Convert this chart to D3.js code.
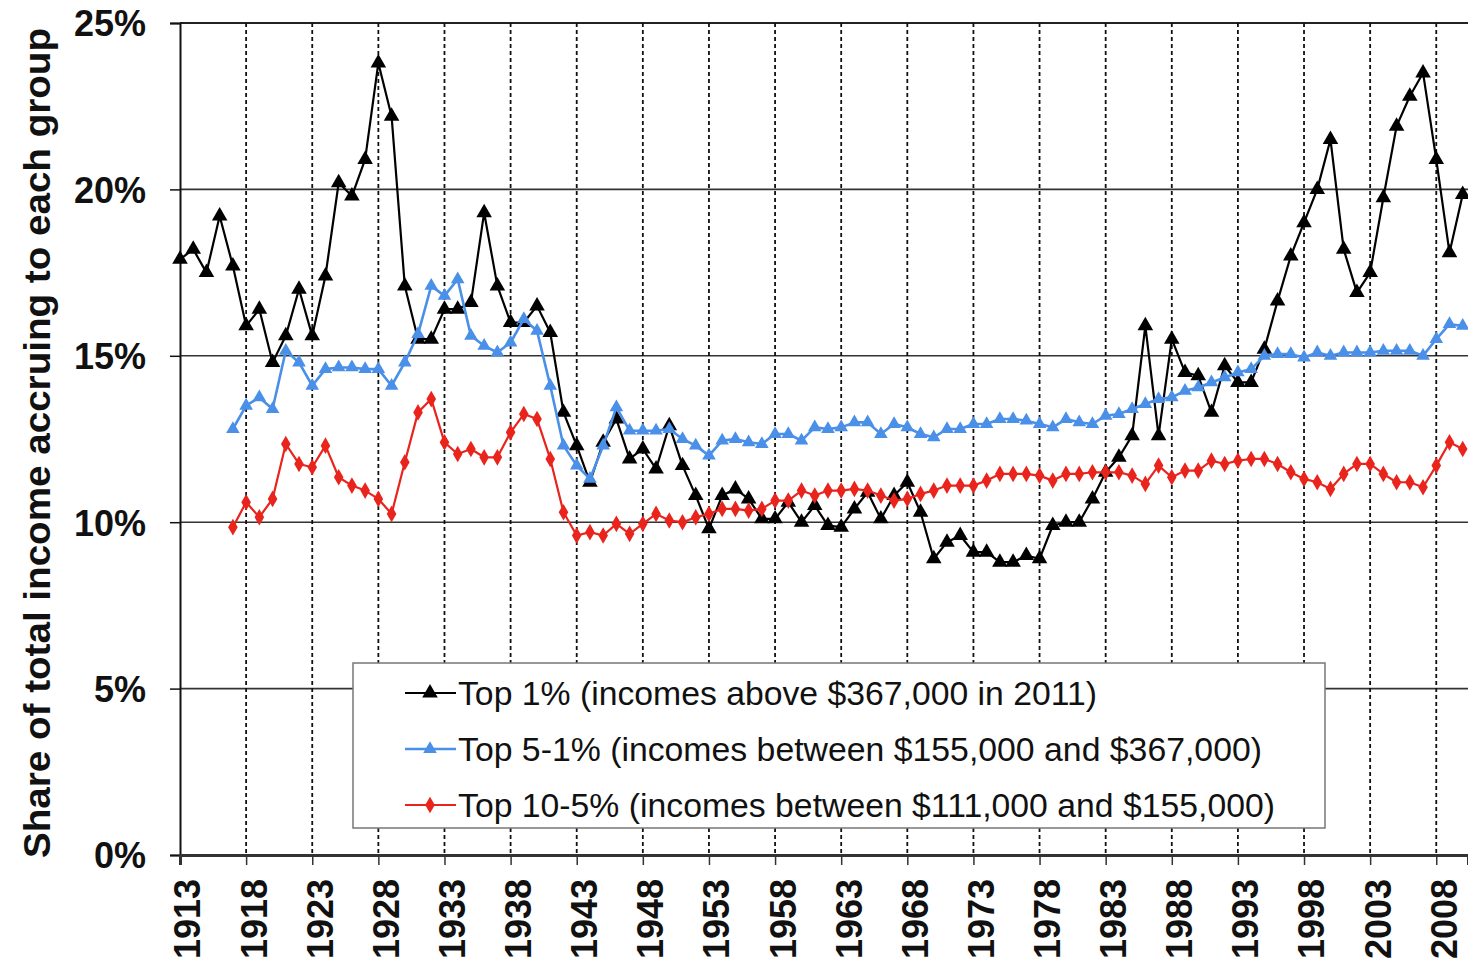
<!DOCTYPE html>
<html>
<head>
<meta charset="utf-8">
<script src="https://cdn.jsdelivr.net/npm/d3@7"></script>
<style>
  html, body { margin: 0; padding: 0; background: #fff; }
  svg { display: block; }
</style>
</head>
<body>
<svg id="chart" width="1468" height="974"></svg>
<script>
// ---------------- DATA ----------------
const years = [1913,1914,1915,1916,1917,1918,1919,1920,1921,1922,1923,1924,1925,1926,1927,1928,1929,1930,
  1931,1932,1933,1934,1935,1936,1937,1938,1939,1940,1941,1942,1943,1944,1945,1946,1947,1948,1949,1950,
  1951,1952,1953,1954,1955,1956,1957,1958,1959,1960,1961,1962,1963,1964,1965,1966,1967,1968,1969,1970,
  1971,1972,1973,1974,1975,1976,1977,1978,1979,1980,1981,1982,1983,1984,1985,1986,1987,1988,1989,1990,
  1991,1992,1993,1994,1995,1996,1997,1998,1999,2000,2001,2002,2003,2004,2005,2006,2007,2008,2009,2010];

// Top 1% (1913-2010)
const top1 = [17.9,18.2,17.5,19.2,17.7,15.9,16.4,14.8,15.6,17.0,15.6,17.4,20.2,19.8,20.9,23.8,22.2,17.1,
  15.5,15.5,16.4,16.4,16.6,19.3,17.1,16.0,16.0,16.5,15.7,13.3,12.3,11.2,12.4,13.1,11.9,12.2,11.6,12.9,
  11.7,10.8,9.8,10.8,11.0,10.7,10.1,10.1,10.6,10.0,10.5,9.9,9.85,10.4,10.9,10.1,10.8,11.2,10.3,8.9,
  9.4,9.6,9.1,9.1,8.8,8.8,9.0,8.9,9.9,10.0,10.0,10.7,11.5,11.95,12.6,15.9,12.6,15.5,14.5,14.4,
  13.3,14.7,14.2,14.2,15.2,16.65,18.0,19.0,20.0,21.5,18.2,16.9,17.5,19.75,21.9,22.8,23.5,20.9,18.1,19.85];

// Top 5-1% (1917-2010)
const top5to1 = [12.8,13.5,13.75,13.4,15.15,14.8,14.1,14.6,14.65,14.65,14.6,14.6,14.1,14.8,
  15.65,17.1,16.8,17.3,15.6,15.3,15.1,15.4,16.1,15.75,14.1,12.3,11.7,11.3,12.3,13.45,12.75,12.75,12.75,12.8,
  12.5,12.3,12.0,12.45,12.5,12.4,12.35,12.65,12.65,12.45,12.85,12.8,12.85,13.0,13.0,12.65,12.95,12.85,12.65,12.55,
  12.8,12.8,12.95,12.95,13.1,13.1,13.05,12.95,12.85,13.1,13.0,12.95,13.2,13.25,13.4,13.55,13.7,13.75,13.95,14.05,
  14.2,14.35,14.5,14.6,15.0,15.05,15.05,14.95,15.1,15.0,15.1,15.1,15.1,15.15,15.15,15.15,15.0,15.5,15.95,15.9];

// Top 10-5% (1917-2010)
const top10to5 = [9.85,10.6,10.15,10.7,12.35,11.75,11.65,12.3,11.35,11.1,10.95,10.7,10.25,11.8,
  13.3,13.7,12.4,12.05,12.2,11.95,11.95,12.7,13.25,13.1,11.9,10.3,9.6,9.7,9.6,9.95,9.65,9.95,10.25,10.05,
  10.0,10.15,10.25,10.4,10.4,10.35,10.4,10.65,10.65,10.95,10.8,10.95,10.95,11.0,10.95,10.8,10.65,10.7,10.85,10.95,
  11.1,11.1,11.1,11.25,11.45,11.45,11.45,11.4,11.25,11.45,11.45,11.5,11.5,11.5,11.4,11.15,11.7,11.35,11.55,11.55,
  11.85,11.75,11.85,11.9,11.9,11.75,11.5,11.3,11.2,11.0,11.45,11.75,11.75,11.45,11.2,11.2,11.05,11.7,12.4,12.2];

const yTickValues = [0, 5, 10, 15, 20, 25];
const yTickLabels = ["0%", "5%", "10%", "15%", "20%", "25%"];
const xTickYears = [1913,1918,1923,1928,1933,1938,1943,1948,1953,1958,1963,1968,1973,1978,1983,1988,1993,1998,2003,2008];

const seriesNames = [
  "Top 1% (incomes above $367,000 in 2011)",
  "Top 5-1% (incomes between $155,000 and $367,000)",
  "Top 10-5% (incomes between $111,000 and $155,000)"
];
const yAxisTitle = "Share of total income accruing to each group";

// ---------------- LAYOUT ----------------
const W = 1468, H = 974;
const plotLeft = 180, plotRight = 1468, plotTop = 23, plotBottom = 855;
const svg = d3.select("#chart");
svg.append("rect").attr("width", W).attr("height", H).attr("fill", "#fff");

const x = d3.scaleLinear().domain([1913, 2010.4]).range([plotLeft, plotRight]);
const y = d3.scaleLinear().domain([0, 25]).range([plotBottom, plotTop]);

const FONT = "'Liberation Sans', Arial, Helvetica, sans-serif";

// horizontal gridlines
svg.append("g").selectAll("line").data(yTickValues.filter(v => v > 0)).join("line")
  .attr("x1", plotLeft).attr("x2", plotRight)
  .attr("y1", d => y(d)).attr("y2", d => y(d))
  .attr("stroke", d => d === 25 ? "#222" : "#333")
  .attr("stroke-width", d => d === 25 ? 2 : 1.6);

// vertical dashed gridlines
svg.append("g").selectAll("line").data(xTickYears.filter(v => v > 1913)).join("line")
  .attr("x1", d => x(d)).attr("x2", d => x(d))
  .attr("y1", plotTop).attr("y2", plotBottom)
  .attr("stroke", "#111").attr("stroke-width", 1.8)
  .attr("stroke-dasharray", "4,3");

// Y axis
const yAxis = d3.axisLeft(y).tickValues(yTickValues)
  .tickFormat((d, i) => yTickLabels[i]).tickSize(10).tickPadding(24);
const gy = svg.append("g").attr("transform", `translate(${plotLeft},0)`).call(yAxis);
gy.select(".domain").attr("stroke", "#111").attr("stroke-width", 2);
gy.selectAll(".tick line").attr("stroke", "#111").attr("stroke-width", 1.5);
gy.selectAll(".tick text").attr("font-family", FONT).attr("font-weight", "bold")
  .attr("font-size", 36).attr("fill", "#111").attr("dy", "0.36em");

// X axis
const xAxis = d3.axisBottom(x).tickValues(xTickYears).tickFormat(d3.format("d")).tickSize(10);
const gx = svg.append("g").attr("transform", `translate(0,${plotBottom})`).call(xAxis);
gx.select(".domain").attr("stroke", "#333").attr("stroke-width", 3);
gx.selectAll(".tick line").attr("stroke", "#333").attr("stroke-width", 1.5);
gx.selectAll(".tick text")
  .attr("font-family", FONT).attr("font-weight", "bold").attr("font-size", 36).attr("fill", "#111")
  .attr("text-anchor", "end")
  .attr("transform", "translate(7,24) rotate(-90)")
  .attr("x", 0).attr("y", 0).attr("dy", "0.36em");

// Y title
svg.append("text")
  .attr("transform", `translate(50,${(28 + 858) / 2}) rotate(-90)`)
  .attr("text-anchor", "middle")
  .attr("font-family", FONT).attr("font-weight", "bold").attr("font-size", 36)
  .attr("fill", "#111")
  .attr("textLength", 830).attr("lengthAdjust", "spacingAndGlyphs")
  .text(yAxisTitle);

// ---------------- SERIES ----------------
const tri = d3.symbol().type(d3.symbolTriangle);
const dia = d3.symbol().type(d3.symbolDiamond);

const series = [
  { name: seriesNames[0], years: years, values: top1, color: "#000", width: 2.2, sym: tri, size: 105 },
  { name: seriesNames[1], years: years.slice(4), values: top5to1, color: "#4a8fe8", width: 2.6, sym: tri, size: 80 },
  { name: seriesNames[2], years: years.slice(4), values: top10to5, color: "#e8241c", width: 2.2, sym: dia, size: 80 }
];

const line = d3.line().x(d => x(d[0])).y(d => y(d[1]));

series.forEach(s => {
  const pts = s.years.map((yr, i) => [yr, s.values[i]]);
  const g = svg.append("g");
  g.append("path").datum(pts).attr("d", line)
    .attr("fill", "none").attr("stroke", s.color).attr("stroke-width", s.width)
    .attr("stroke-linejoin", "round");
  g.selectAll("path.m").data(pts).join("path").attr("class", "m")
    .attr("d", s.sym.size(s.size))
    .attr("transform", d => `translate(${x(d[0])},${y(d[1])})`)
    .attr("fill", s.color);
});

// ---------------- LEGEND ----------------
const legend = svg.append("g");
legend.append("rect")
  .attr("x", 353).attr("y", 663).attr("width", 972).attr("height", 165)
  .attr("fill", "#fff").attr("stroke", "#777").attr("stroke-width", 1.5);
const rowY = [693, 749, 805];
const textLens = [639, 804, 817];
series.forEach((s, i) => {
  const ly = rowY[i];
  legend.append("line").attr("x1", 405).attr("x2", 456).attr("y1", ly).attr("y2", ly)
    .attr("stroke", s.color).attr("stroke-width", s.width);
  legend.append("path").attr("d", s.sym.size(s.size))
    .attr("transform", `translate(430,${ly})`).attr("fill", s.color);
  legend.append("text").attr("x", 458).attr("y", ly).attr("dy", "0.36em")
    .attr("font-family", FONT).attr("font-size", 33).attr("fill", "#111")
    .attr("textLength", textLens[i]).attr("lengthAdjust", "spacingAndGlyphs")
    .text(s.name);
});
</script>
</body>
</html>
